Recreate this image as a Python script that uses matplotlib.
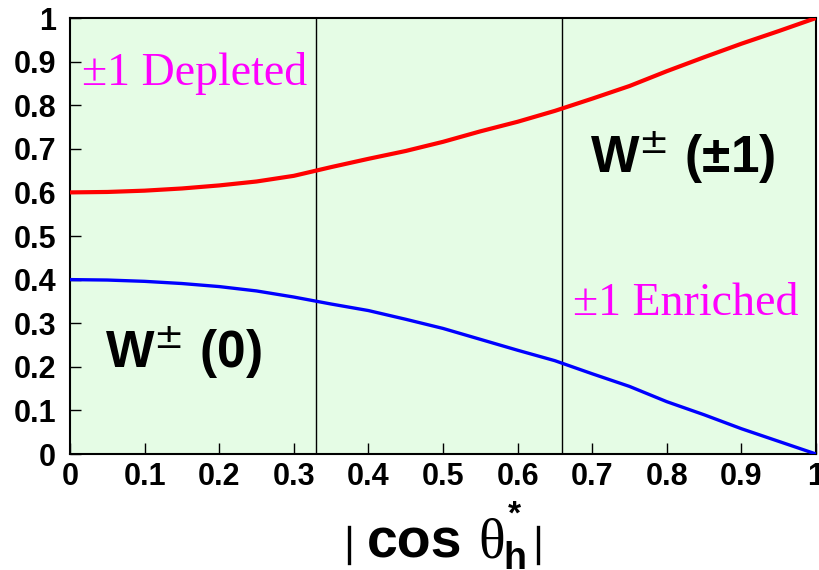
import matplotlib
matplotlib.use("Agg")
import matplotlib.pyplot as plt
from matplotlib.lines import Line2D

# Data
x_vals = [0.0, 0.05, 0.1, 0.15, 0.2, 0.25, 0.3, 0.35, 0.4, 0.45, 0.5,
          0.55, 0.6, 0.65, 0.7, 0.75, 0.8, 0.85, 0.9, 0.95, 1.0]
red_vals = [0.600, 0.601, 0.604, 0.609, 0.616, 0.625, 0.638, 0.658, 0.677, 0.695, 0.716,
            0.740, 0.762, 0.787, 0.815, 0.844, 0.878, 0.910, 0.941, 0.970, 1.000]
blue_vals = [0.400, 0.399, 0.396, 0.391, 0.384, 0.374, 0.360, 0.344, 0.329, 0.309, 0.288,
             0.263, 0.238, 0.214, 0.184, 0.155, 0.120, 0.090, 0.058, 0.029, 0.000]
vlines_x = [0.33, 0.66]
tick_vals = [0.0, 0.1, 0.2, 0.3, 0.4, 0.5, 0.6, 0.7, 0.8, 0.9, 1.0]
tick_labels = ['0', '0.1', '0.2', '0.3', '0.4', '0.5', '0.6', '0.7', '0.8', '0.9', '1']

W, H = 819, 570
fig = plt.figure(figsize=(W / 100, H / 100), dpi=100)
fig.patch.set_facecolor('white')
ax = fig.add_axes([70 / W, 1 - 454 / H, 746 / W, 436 / H])
ax.set_facecolor('#e5fce5')

ax.plot(x_vals, red_vals, color='#ff0000', lw=3.0, solid_capstyle='butt', zorder=3)
ax.plot(x_vals, blue_vals, color='#0000ff', lw=2.4, solid_capstyle='butt', zorder=3)
for xv in vlines_x:
    ax.axvline(xv, color='black', lw=1.0, zorder=2)

ax.set_xlim(0, 1)
ax.set_ylim(0, 1)
ax.set_xticks(tick_vals)
ax.set_xticklabels(tick_labels)
ax.set_yticks(tick_vals)
ax.set_yticklabels(tick_labels)
ax.tick_params(direction='in', length=8, width=1, top=False, right=False)
ax.tick_params(axis='x', pad=6)
ax.tick_params(axis='y', pad=10)
for lab in ax.get_xticklabels() + ax.get_yticklabels():
    lab.set_fontfamily('Liberation Sans')
    lab.set_fontweight('bold')
    lab.set_fontsize(22)
for sp in ax.spines.values():
    sp.set_linewidth(1.5)

# annotations
ax.text(0.016, 0.846, '±1 Depleted', color='#ff00ff', fontsize=33,
        family='Liberation Serif', ha='left', va='baseline')
ax.text(0.674, 0.319, '±1 Enriched', color='#ff00ff', fontsize=33,
        family='Liberation Serif', ha='left', va='baseline')
ax.text(0.697, 0.644, r'W$^{\pm}$ (±1)', color='black', fontsize=37,
        family='Liberation Sans', fontweight='bold', ha='left', va='baseline')
ax.text(0.047, 0.197, r'W$^{\pm}$ (0)', color='black', fontsize=37,
        family='Liberation Sans', fontweight='bold', ha='left', va='baseline')

# x axis label |cos theta_h^*|
def fx(px):
    return px / W

def fy(py):
    return 1 - py / H

fig.add_artist(Line2D([fx(349), fx(349)], [fy(527), fy(563)], color='black', lw=2.4))
fig.add_artist(Line2D([fx(538), fx(538)], [fy(527), fy(563)], color='black', lw=2.4))
fig.text(fx(367), fy(557), 'cos', fontsize=40, family='Liberation Sans',
         fontweight='bold', ha='left', va='baseline')
fig.text(fx(478), fy(557), 'θ', fontsize=40, family='Liberation Serif',
         ha='left', va='baseline')
fig.text(fx(503), fy(569), 'h', fontsize=27, family='Liberation Sans',
         fontweight='bold', ha='left', va='baseline')
fig.text(fx(508), fy(524), '*', fontsize=24, family='Liberation Sans',
         fontweight='bold', ha='left', va='baseline')

fig.savefig('out.png', dpi=100)
